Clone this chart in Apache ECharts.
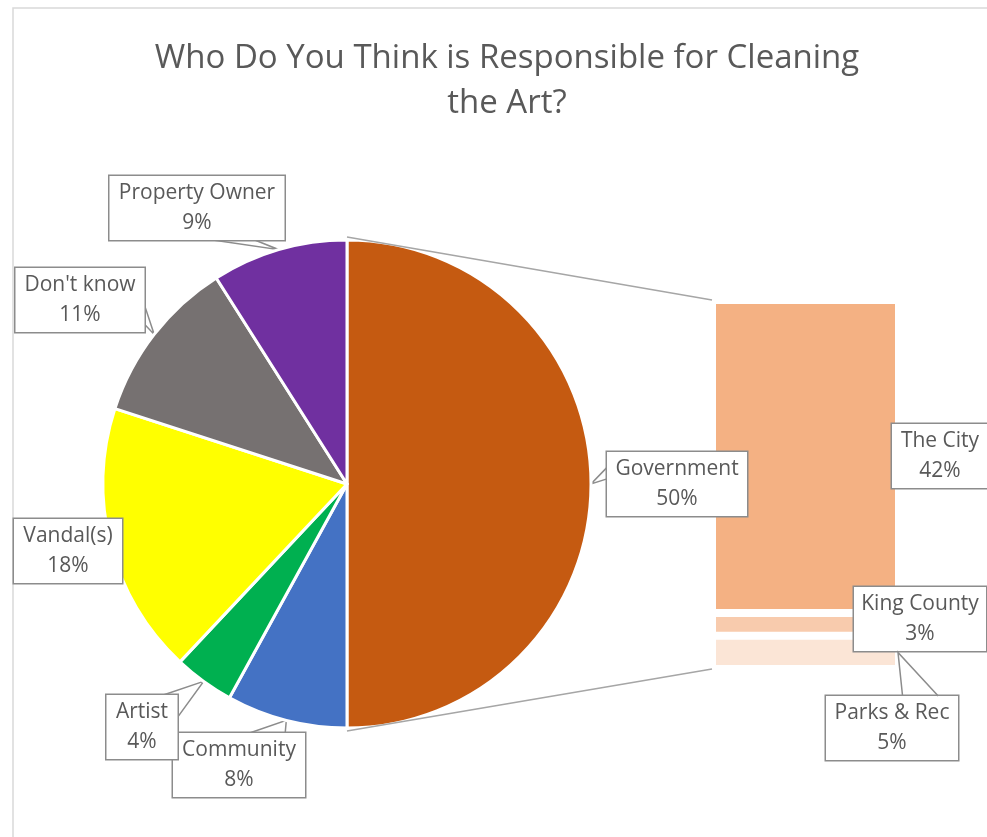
<!DOCTYPE html>
<html>
<head>
<meta charset="utf-8">
<script src="https://cdn.jsdelivr.net/npm/echarts@6/dist/echarts.min.js"></script>
<style>html,body{margin:0;padding:0;background:#fff}#c{width:987px;height:837px}</style>
</head>
<body>
<div id="c"></div>
<script>
// ---- data ----
const titleText = 'Who Do You Think is Responsible for Cleaning\nthe Art?';
const pieNames = ['Government', 'Community', 'Artist', 'Vandal(s)', "Don't know", 'Property Owner'];
const pieValues = [50, 8, 4, 18, 11, 9];
const pieColors = ['#C55A11', '#4472C4', '#00B050', '#FFFF00', '#767171', '#7030A0'];
const barNames = ['The City', 'King County', 'Parks & Rec'];
const barValues = [42.4, 3.1, 4.5];
const barColors = ['#F4B183', '#F8CBAD', '#FBE5D6'];

// ---- layout ----
const FONT = 'Open Sans';
const TXT = '#595959';
const BORDER = '#8c8c8c';
const PIE_C = [347, 484], PIE_R = 244;
const GRID = {left: 712, top: 300, width: 187, height: 369};
// callout boxes: center x/y, width, side of pointer base, base fractions
const pieCallouts = [
  {cx: 677, cy: 484, w: 140, side: 'left', f: [0.24, 0.42]},
  {cx: 239, cy: 765, w: 132, side: 'top', f: [0.58, 0.85]},
  {cx: 142, cy: 727, w: 71, side: 'top', f: [0.80, 1.0], alt: 'right'},
  {cx: 68, cy: 551, w: 108, side: null},
  {cx: 80, cy: 300, w: 129, side: 'right', f: [0.58, 0.88]},
  {cx: 197, cy: 208, w: 175, side: 'bottom', f: [0.59, 0.83]}
];
const barCallouts = [
  {cx: 940, cy: 456, w: 96, side: null},
  {cx: 920, cy: 619, w: 132, side: null},
  {cx: 892, cy: 728, w: 132, side: 'top', f: [0.58, 0.85]}
];
const BOX_H = 64;

function basePoints(c, tip) {
  const l = c.cx - c.w / 2, r = c.cx + c.w / 2, t = c.cy - BOX_H / 2, b = c.cy + BOX_H / 2;
  const f = c.f;
  if (c.alt === 'right') {
    return [[l + f[0] * c.w, t], tip, [r, t + 0.35 * BOX_H]];
  }
  switch (c.side) {
    case 'top': return [[l + f[0] * c.w, t], tip, [l + f[1] * c.w, t]];
    case 'bottom': return [[l + f[0] * c.w, b], tip, [l + f[1] * c.w, b]];
    case 'left': return [[l, t + f[0] * BOX_H], tip, [l, t + f[1] * BOX_H]];
    case 'right': return [[r, t + f[0] * BOX_H], tip, [r, t + f[1] * BOX_H]];
  }
}

const labelBase = {
  show: true,
  color: TXT,
  fontFamily: FONT,
  fontSize: 21,
  lineHeight: 30,
  align: 'center',
  backgroundColor: '#fff',
  borderColor: BORDER,
  borderWidth: 1.5,
  padding: [2, 0]
};
const lineBase = {show: true, lineStyle: {color: BORDER, width: 1.5}, length: 10, length2: 10};

const chart = echarts.init(document.getElementById('c'));

const pieData = pieNames.map((n, i) => ({
  name: n,
  value: pieValues[i],
  itemStyle: {color: pieColors[i]},
  label: {width: pieCallouts[i].w},
  labelLine: {show: !!pieCallouts[i].side}
}));

const barSeries = [];
for (let k = barNames.length - 1; k >= 0; k--) {
  const c = barCallouts[k];
  barSeries.push({
    type: 'bar',
    name: barNames[k],
    stack: 'g',
    data: [barValues[k]],
    barWidth: '100%',
    barCategoryGap: 0,
    itemStyle: {color: barColors[k], borderColor: '#fff', borderWidth: 4},
    label: Object.assign({}, labelBase, {
      position: 'inside',
      width: c.w,
      formatter: () => barNames[k] + '\n' + Math.round(barValues[k]) + '%'
    }),
    labelLayout: function () {
      return {x: c.cx, y: c.cy, align: 'center', verticalAlign: 'middle'};
    },
    z: 3
  });
}

chart.setOption({
  animation: false,
  backgroundColor: '#fff',
  title: {
    text: titleText,
    left: 502,
    top: 31,
    textAlign: 'center',
    textStyle: {color: TXT, fontFamily: FONT, fontSize: 33, fontWeight: 'normal', lineHeight: 45}
  },
  grid: GRID,
  xAxis: {type: 'category', data: ['Government'], show: false},
  yAxis: {type: 'value', min: 0, max: 50, show: false},
  series: [{
    type: 'pie',
    center: PIE_C,
    radius: PIE_R,
    startAngle: 90,
    clockwise: true,
    avoidLabelOverlap: false,
    itemStyle: {borderColor: '#fff', borderWidth: 3},
    label: Object.assign({}, labelBase, {
      position: 'outside',
      formatter: p => p.name + '\n' + Math.round(p.percent) + '%'
    }),
    labelLine: lineBase,
    labelLayout: function (p) {
      const c = pieCallouts[p.dataIndex];
      const res = {x: c.cx, y: c.cy, align: 'center', verticalAlign: 'middle'};
      if (c.side && p.labelLinePoints) {
        res.labelLinePoints = basePoints(c, p.labelLinePoints[0]);
      }
      return res;
    },
    data: pieData,
    z: 4
  }].concat(barSeries)
});

// connector lines between pie and bar, and the bar callout pointer
const barTop = chart.convertToPixel({gridIndex: 0}, [0, 50]);
const barBot = chart.convertToPixel({gridIndex: 0}, [0, 0]);
const gfx = [{
  type: 'rect', z: -10, silent: true,
  shape: {x: 13, y: 8, width: 1100, height: 1000},
  style: {fill: 'none', stroke: '#d9d9d9', lineWidth: 1.5}
}, {
  type: 'line', z: 5, silent: true,
  shape: {x1: PIE_C[0], y1: PIE_C[1] - PIE_R - 3, x2: GRID.left, y2: barTop[1]},
  style: {stroke: '#a6a6a6', lineWidth: 1.5}
}, {
  type: 'line', z: 5, silent: true,
  shape: {x1: PIE_C[0], y1: PIE_C[1] + PIE_R + 3, x2: GRID.left, y2: barBot[1]},
  style: {stroke: '#a6a6a6', lineWidth: 1.5}
}];
// pointer for bar callouts with a side
let acc = 0;
for (let k = barNames.length - 1; k >= 0; k--) {
  const c = barCallouts[k];
  const mid = chart.convertToPixel({gridIndex: 0}, [0, acc + barValues[k] / 2]);
  acc += barValues[k];
  if (!c.side) continue;
  const tip = [GRID.left + GRID.width - 1, mid[1]];
  gfx.push({
    type: 'polyline', z: 100, silent: true,
    shape: {points: basePoints(c, tip)},
    style: {fill: 'none', stroke: BORDER, lineWidth: 1.5}
  });
}
chart.setOption({graphic: gfx});
</script>
</body>
</html>
